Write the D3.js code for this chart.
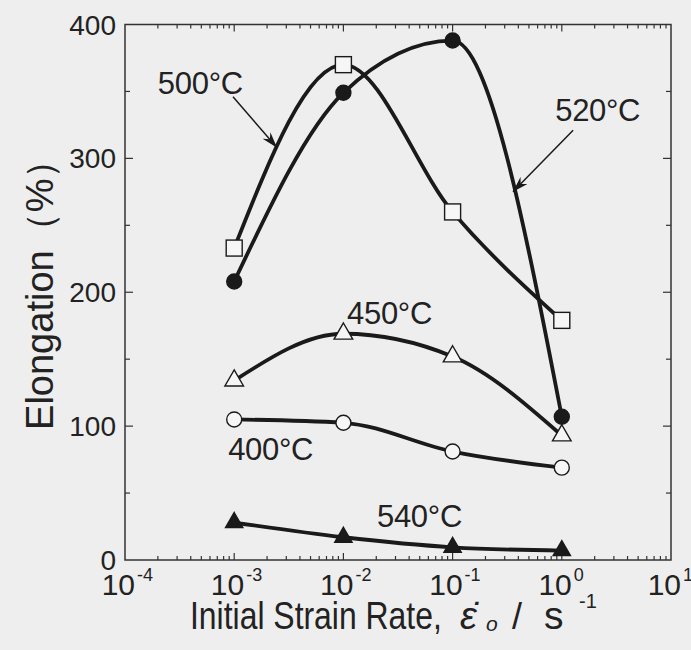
<!DOCTYPE html>
<html>
<head>
<meta charset="utf-8">
<script src="https://cdn.jsdelivr.net/npm/d3@7"></script>
<style>
  html, body { margin: 0; padding: 0; background: #eeeeee; }
  svg { display: block; }
  text { font-family: "Liberation Sans", Arial, Helvetica, sans-serif; fill: #222; }
</style>
</head>
<body>
<svg id="chart" width="691" height="650"></svg>
<script>
// Strain rates tested (s^-1) and elongation to failure (%) at each temperature
const rates = [1e-3, 1e-2, 1e-1, 1e0];
const elong400 = [105, 102.5, 81, 69];
const elong450 = [134, 169, 152, 93];
const elong500 = [233, 370, 260, 179];
const elong520 = [208, 349, 388, 107];
const elong540 = [28, 17, 9.5, 7];

const xTickValues = [1e-4, 1e-3, 1e-2, 1e-1, 1e0, 1e1];
const xTickExponents = ["-4", "-3", "-2", "-1", "0", "1"];
const yTickValues = [0, 100, 200, 300, 400];
const yMinorValues = [50, 150, 250, 350];

const series = [
  { name: "400°C", values: elong400, marker: "circle",   filled: false },
  { name: "450°C", values: elong450, marker: "triangle", filled: false },
  { name: "500°C", values: elong500, marker: "square",   filled: false },
  { name: "520°C", values: elong520, marker: "circle",   filled: true  },
  { name: "540°C", values: elong540, marker: "triangle", filled: true  }
];

// Temperature labels placed in data coordinates [rate, elongation]
const labels = [
  { text: "500°C", at: [2.0e-4, 348] },
  { text: "520°C", at: [0.87, 328] },
  { text: "450°C", at: [0.0108, 176] },
  { text: "400°C", at: [8.8e-4, 75] },
  { text: "540°C", at: [0.0203, 25] }
];
// Leader arrows, [from, to] in data coordinates
const arrows = [
  { from: [9.75e-4, 346], to: [2.47e-3, 308] },
  { from: [1.27, 321], to: [0.357, 275] }
];

const svg = d3.select("#chart");
const W = 691, H = 650;
const margin = { left: 125, right: 20, top: 24.5, bottom: 90 };
const plotW = W - margin.left - margin.right;
const plotH = H - margin.top - margin.bottom;

const x = d3.scaleLog().domain([1e-4, 1e1]).range([margin.left, margin.left + plotW]);
const y = d3.scaleLinear().domain([0, 400]).range([margin.top + plotH, margin.top]);

const ink = "#1a1a1a";

// Frame
svg.append("rect")
  .attr("x", margin.left).attr("y", margin.top)
  .attr("width", plotW).attr("height", plotH)
  .attr("fill", "none").attr("stroke", "#333").attr("stroke-width", 1.5);

// Log minor ticks on top and bottom edges
const minorX = [];
for (let e = -4; e < 1; e++) {
  for (let m = 2; m <= 9; m++) minorX.push(m * Math.pow(10, e));
}
const tickG = svg.append("g").attr("stroke", "#333").attr("stroke-width", 1.2);
[y(0), y(400)].forEach((edge, i) => {
  const dir = i === 0 ? -1 : 1;
  tickG.selectAll(null).data(minorX).join("line")
    .attr("x1", d => x(d)).attr("x2", d => x(d))
    .attr("y1", edge).attr("y2", edge + dir * 4);
  tickG.selectAll(null).data(xTickValues.slice(1, -1)).join("line")
    .attr("x1", d => x(d)).attr("x2", d => x(d))
    .attr("y1", edge).attr("y2", edge + dir * 7);
});
// Y ticks on left and right edges
[x(1e-4), x(1e1)].forEach((edge, i) => {
  const dir = i === 0 ? 1 : -1;
  tickG.selectAll(null).data(yTickValues.slice(1, -1)).join("line")
    .attr("x1", edge).attr("x2", edge + dir * 8)
    .attr("y1", d => y(d)).attr("y2", d => y(d));
  tickG.selectAll(null).data(yMinorValues).join("line")
    .attr("x1", edge).attr("x2", edge + dir * 5)
    .attr("y1", d => y(d)).attr("y2", d => y(d));
});

// Y tick labels
svg.append("g").selectAll("text").data(yTickValues).join("text")
  .attr("x", margin.left - 9)
  .attr("y", d => y(d) + 10)
  .attr("text-anchor", "end")
  .attr("font-size", 28)
  .text(d => d);

// X tick labels as powers of ten: mantissa and raised exponent
const xLab = svg.append("g");
xLab.selectAll("text.base").data(xTickValues).join("text")
  .attr("class", "base")
  .attr("x", d => x(d) + 10)
  .attr("y", y(0) + 35)
  .attr("text-anchor", "end")
  .attr("font-size", 30)
  .text("10");
xLab.selectAll("text.exp").data(xTickValues).join("text")
  .attr("class", "exp")
  .attr("x", d => x(d) + 12)
  .attr("y", y(0) + 21)
  .attr("font-size", 18)
  .text((d, i) => xTickExponents[i]);

// Axis titles
svg.append("text")
  .attr("transform", `translate(53, ${y(200) - 7}) rotate(-90)`)
  .attr("text-anchor", "middle")
  .attr("font-size", 38)
  .text("Elongation（%）");

svg.append("text")
  .attr("transform", "translate(190, 629) scale(0.84, 1)")
  .attr("font-size", 38)
  .text("Initial Strain Rate,");
svg.append("text")
  .attr("x", 460).attr("y", 629)
  .attr("font-size", 38).attr("font-style", "italic")
  .text("ε\u0307");
svg.append("text")
  .attr("x", 486).attr("y", 631)
  .attr("font-size", 21).attr("font-style", "italic")
  .text("o");
svg.append("text")
  .attr("x", 512).attr("y", 629)
  .attr("font-size", 36)
  .text("/");
svg.append("text")
  .attr("x", 544).attr("y", 629)
  .attr("font-size", 39)
  .text("s");
svg.append("text")
  .attr("x", 579).attr("y", 608)
  .attr("font-size", 20)
  .text("-1");

// Curves
const line = d3.line()
  .x((d, i) => x(rates[i]))
  .y(d => y(d))
  .curve(d3.curveMonotoneX);

svg.append("g").selectAll("path").data(series).join("path")
  .attr("d", s => line(s.values))
  .attr("fill", "none")
  .attr("stroke", ink)
  .attr("stroke-width", 3.8)
  .attr("stroke-linejoin", "round");

// Markers
const bg = "#f6f6f6";
series.forEach(s => {
  const g = svg.append("g");
  const pts = s.values.map((v, i) => [x(rates[i]), y(v)]);
  const fill = s.filled ? ink : bg;
  if (s.marker === "circle") {
    g.selectAll("circle").data(pts).join("circle")
      .attr("cx", d => d[0]).attr("cy", d => d[1]).attr("r", 7.5)
      .attr("fill", fill).attr("stroke", ink).attr("stroke-width", 1.4);
  } else if (s.marker === "square") {
    g.selectAll("rect").data(pts).join("rect")
      .attr("x", d => d[0] - 8).attr("y", d => d[1] - 8)
      .attr("width", 16).attr("height", 16)
      .attr("fill", fill).attr("stroke", ink).attr("stroke-width", 1.4);
  } else {
    const tri = d3.symbol().type(d3.symbolTriangle).size(s.filled ? 130 : 150);
    g.selectAll("path").data(pts).join("path")
      .attr("transform", d => `translate(${d[0]},${d[1]})`)
      .attr("d", tri())
      .attr("fill", fill).attr("stroke", ink).attr("stroke-width", 1.4);
  }
});

// Temperature labels
svg.append("g").selectAll("text").data(labels).join("text")
  .attr("x", d => x(d.at[0])).attr("y", d => y(d.at[1]))
  .attr("font-size", 31)
  .attr("letter-spacing", -0.3)
  .text(d => d.text);

// Leader arrows
svg.append("defs").append("marker")
  .attr("id", "arrowhead")
  .attr("viewBox", "0 -5 16 10")
  .attr("refX", 16).attr("refY", 0)
  .attr("markerWidth", 16).attr("markerHeight", 10)
  .attr("markerUnits", "userSpaceOnUse")
  .attr("orient", "auto")
  .append("path")
  .attr("d", "M0,-5 L16,0 L0,5 L5,0 Z")
  .attr("fill", ink);

svg.append("g").selectAll("line").data(arrows).join("line")
  .attr("x1", d => x(d.from[0])).attr("y1", d => y(d.from[1]))
  .attr("x2", d => x(d.to[0])).attr("y2", d => y(d.to[1]))
  .attr("stroke", ink).attr("stroke-width", 1.5)
  .attr("marker-end", "url(#arrowhead)");
</script>
</body>
</html>
